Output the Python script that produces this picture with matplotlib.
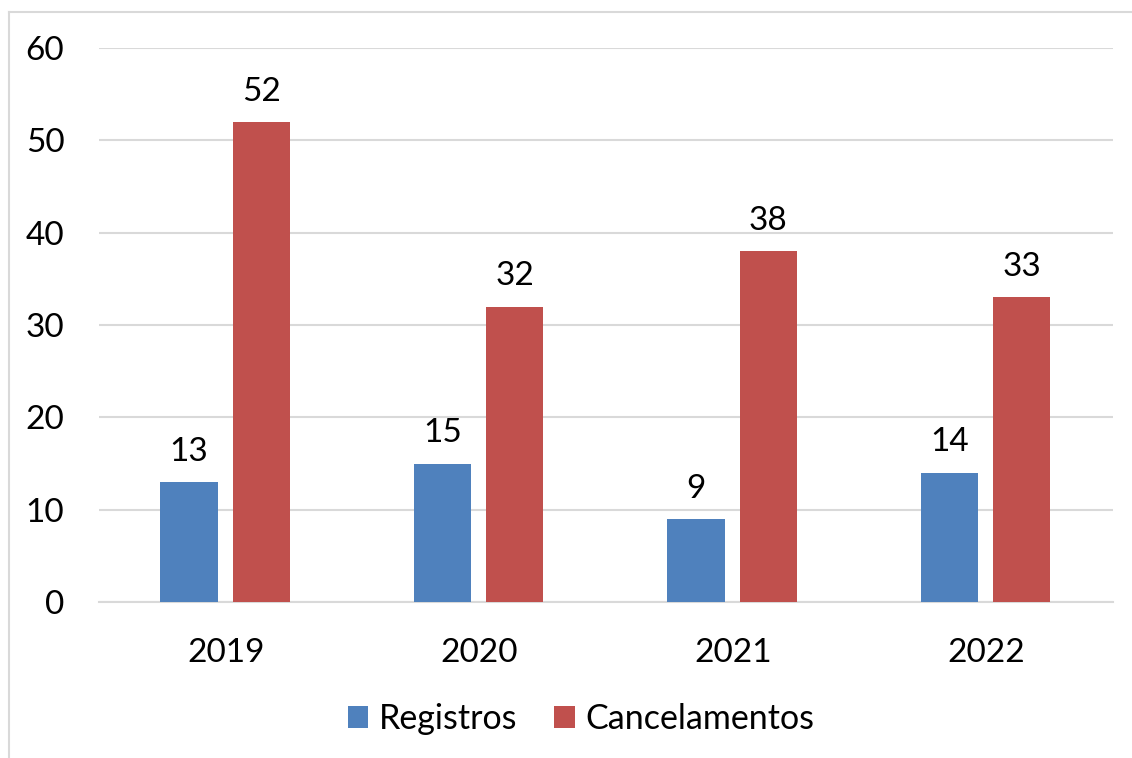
import numpy as np
import matplotlib.pyplot as plt
from matplotlib.lines import Line2D

years = ['2019', '2020', '2021', '2022']
registros = [13, 15, 9, 14]
cancelamentos = [52, 32, 38, 33]

plt.rcParams['font.family'] = ['Lato', 'DejaVu Sans']

W, H = 1132, 758
fig = plt.figure(figsize=(W / 100, H / 100), dpi=100)
ax = fig.add_axes([99 / W, 1 - 602 / H, (1113 - 99) / W, (602 - 48) / H])

x = np.arange(len(years))
bw = 0.225
b1 = ax.bar(x - 0.145, registros, bw, color='#4F81BD', label='Registros', zorder=3)
b2 = ax.bar(x + 0.140, cancelamentos, bw, color='#C0504D', label='Cancelamentos', zorder=3)

for bars in (b1, b2):
    for r in bars:
        ax.annotate(f'{r.get_height():g}', (r.get_x() + r.get_width() / 2, r.get_height()),
                    xytext=(0, 11), textcoords='offset points', ha='center', va='bottom',
                    fontsize=24, color='black')

ax.set_xlim(-0.5, 3.5)
ax.set_ylim(0, 60)
ax.set_yticks(range(0, 61, 10))
ax.set_xticks(x)
ax.set_xticklabels(years)
ax.tick_params(axis='both', length=0, labelsize=24, colors='black')
ax.tick_params(axis='y', pad=25)
ax.tick_params(axis='x', pad=26)
ax.grid(axis='y', color='#d9d9d9', linewidth=1.5, zorder=0)
for s in ['top', 'right', 'left']:
    ax.spines[s].set_visible(False)
ax.spines['bottom'].set_color('#d9d9d9')
ax.spines['bottom'].set_linewidth(1.5)

leg = fig.legend(loc='center', bbox_to_anchor=(581 / W, 1 - 719 / H), ncol=2, frameon=False,
                 fontsize=24.5, handlelength=0.6, handleheight=0.6, handletextpad=0.3,
                 columnspacing=1.1)

# outer chart border
fig.add_artist(Line2D([9 / W, 9 / W], [0, 1 - 12 / H], transform=fig.transFigure,
                      color='#d9d9d9', linewidth=1.5))
fig.add_artist(Line2D([9 / W, 1], [1 - 12 / H, 1 - 12 / H], transform=fig.transFigure,
                      color='#d9d9d9', linewidth=1.5))

fig.savefig('out.png', dpi=100)
